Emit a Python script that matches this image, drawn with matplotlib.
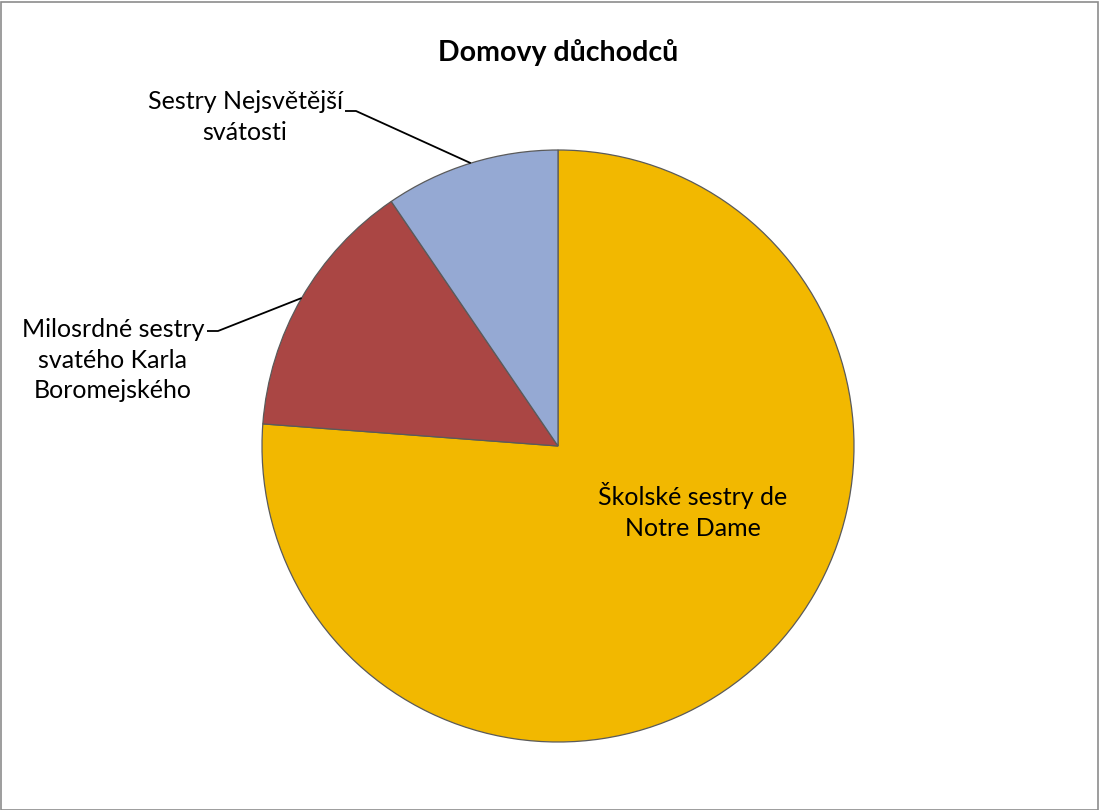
import matplotlib
matplotlib.use("Agg")
import matplotlib.pyplot as plt
from matplotlib.patches import Rectangle
import numpy as np

plt.rcParams['font.family'] = ['Lato', 'DejaVu Sans']

labels = ['Školské sestry de\nNotre Dame',
          'Milosrdné sestry\nsvatého Karla\nBoromejského',
          'Sestry Nejsvětější\nsvátosti']
values = [16, 3, 2]
colors = ['#F2B800', '#AA4644', '#95A9D3']
title = 'Domovy důchodců'

W, H = 1099, 810
fig = plt.figure(figsize=(W / 100, H / 100), dpi=100)
ax = fig.add_axes([0, 0, 1, 1])

cx, cy, r = 558, H - 446, 296
wedges, _ = ax.pie(values, colors=colors, startangle=90, counterclock=False,
                   center=(cx, cy), radius=r, frame=True,
                   wedgeprops=dict(edgecolor='#5a5a5a', linewidth=0.9))
ax.set_xlim(0, W)
ax.set_ylim(0, H)
ax.set_aspect('equal')
ax.axis('off')

fs = 18
ls = 1.38
# inner label
ax.text(693, H - 511, labels[0], ha='center', va='center', fontsize=fs,
        linespacing=ls, color='black')

# outside labels with leader lines
outside = [(1, (113, H - 360), (207, 218)), (2, (245, H - 117), (345, 356))]
for i, (tx, ty), (x0, x1) in outside:
    ax.text(tx, ty, labels[i], ha='center', va='center', fontsize=fs,
            linespacing=ls, color='black')
    w = wedges[i]
    mid = np.deg2rad((w.theta1 + w.theta2) / 2)
    px, py = cx + r * np.cos(mid), cy + r * np.sin(mid)
    ly = ty + (6 if i == 2 else 29)
    ax.plot([x0, x1, px], [ly, ly, py], color='black', lw=1.3,
            solid_capstyle='butt', zorder=5)

ax.text(558, H - 52, title, ha='center', va='center', fontsize=20.5,
        fontweight='bold', color='black')

fig.patches.append(Rectangle((0.5 / W, 0.5 / H), 1 - 2 / W, 1 - 2 / H,
                             transform=fig.transFigure, fill=False,
                             edgecolor='#8c8c8c', linewidth=1.2))

fig.savefig('out.png', dpi=100)
